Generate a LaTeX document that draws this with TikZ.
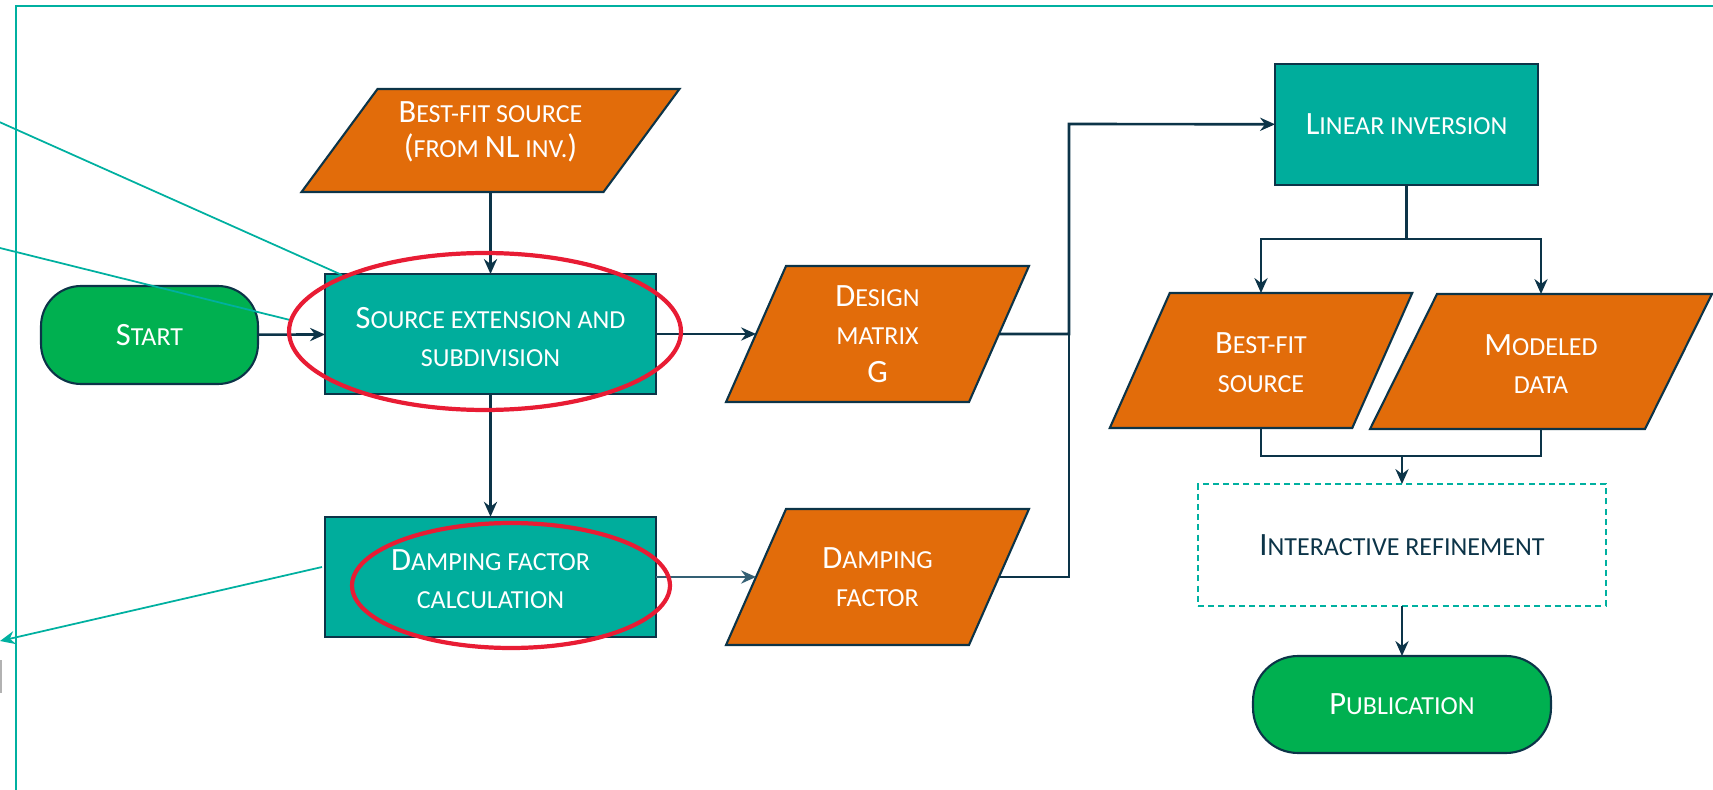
\documentclass[tikz,border=0pt]{standalone}
\usepackage{fontspec}
\setmainfont{Carlito}
\usetikzlibrary{shapes.geometric,arrows.meta}

\definecolor{procteal}{RGB}{0,173,156}
\definecolor{dataorange}{RGB}{226,108,10}
\definecolor{termgreen}{RGB}{0,176,80}
\definecolor{navy}{RGB}{12,52,72}
\definecolor{softnavy}{RGB}{52,96,116}
\definecolor{markred}{RGB}{232,28,52}
\definecolor{noteteal}{RGB}{0,176,160}

\pgfdeclarelayer{bg}
\pgfsetlayers{bg,main}

% faked small capitals: a full-size initial and reduced capitals
\newcommand\bigc[1]{{\fontsize{18.5}{21.8}\selectfont #1}}
\newcommand\smc[1]{{\fontsize{14.8}{21.8}\selectfont\MakeUppercase{#1}}}
% empty leading line that nudges a text block slightly downwards
\newcommand\nudge[1]{\mbox{}\\[#1]}

% parallelogram behind a data node; #2 is the horizontal lean of its sides
\newcommand\slantbox[2]{%
  \begin{pgfonlayer}{bg}
    \draw[datashape]
      ([xshift=-#2*0.01cm]#1.south west) -- ([xshift=-#2*0.01cm]#1.south east)
      -- ([xshift=#2*0.01cm]#1.north east) -- ([xshift=#2*0.01cm]#1.north west) -- cycle;
  \end{pgfonlayer}}

\tikzset{
  base/.style={align=center, inner sep=0pt, outer sep=0pt, line width=1.2pt, draw=navy,
    text=white, font=\fontsize{14.8}{21.8}\selectfont},
  proc/.style={base, rectangle, fill=procteal},
  term/.style={base, rectangle, fill=termgreen},
  data/.style={base, rectangle, draw=none},
  datashape/.style={draw=navy, line width=1.2pt, fill=dataorange, line join=miter},
  refbox/.style={base, rectangle, draw=noteteal, line width=1.2pt,
    dash pattern=on 3.4pt off 2.4pt, text=navy},
  link/.style={draw=navy, line width=1.5pt},
  flow/.style={link, -{Stealth[length=8.5pt,width=7.5pt,inset=2.8pt]}},
  note/.style={draw=noteteal, line width=1pt},
  ring/.style={ellipse, draw=markred, line width=2.4pt, inner sep=0pt},
}

\begin{document}
\begin{tikzpicture}[x=0.02cm, y=-0.02cm]
\path[use as bounding box, clip] (0,0) rectangle (1713,790);

% enclosing frame, running past the right and bottom edges
\draw[note] (16,800) |- (1720,6);

% terminals
\node[term, minimum width=4.34cm, minimum height=1.96cm, rounded corners=0.8cm]
  (start) at (149.5,335) {\bigc{S}\smc{tart}};
\node[term, minimum width=5.96cm, minimum height=1.94cm, rounded corners=0.9cm]
  (pub) at (1402,704.5) {\bigc{P}\smc{ublication}};

% processes
\node[proc, minimum width=6.62cm, minimum height=2.4cm]
  (src) at (490.5,334) {\nudge{-6pt}\bigc{S}\smc{ource extension and}\\\smc{subdivision}};
\node[proc, minimum width=6.62cm, minimum height=2.41cm]
  (dcal) at (490.5,577) {\nudge{-7.3pt}\bigc{D}\smc{amping factor}\\\smc{calculation}};
\node[proc, minimum width=5.26cm, minimum height=2.42cm]
  (lin) at (1406.5,124.5) {\bigc{L}\smc{inear inversion}};
\node[refbox, minimum width=8.16cm, minimum height=2.44cm]
  (ref) at (1402,545) {\bigc{I}\smc{nteractive refinement}};

% data (side length and height; the lean is added by \slantbox)
\node[data, minimum width=6.04cm, minimum height=2.06cm]
  (bnl) at (490.5,140.5) {\bigc{B}\smc{est-fit source}\\[-1.5pt]\bigc{(}\smc{from }\bigc{NL}\smc{ inv.}\bigc{)}\\[-9.4pt]\mbox{}};
\node[data, minimum width=4.86cm, minimum height=2.72cm]
  (dm) at (877.5,334) {\bigc{D}\smc{esign}\\\smc{matrix}\\\bigc{G}};
\node[data, minimum width=4.86cm, minimum height=2.72cm]
  (df) at (877.5,577) {\bigc{D}\smc{amping}\\\smc{factor}};
\node[data, minimum width=4.85cm, minimum height=2.7cm]
  (bfs) at (1261,360.5) {\nudge{-7.3pt}\bigc{B}\smc{est-fit}\\\smc{source}};
\node[data, minimum width=5.5cm, minimum height=2.7cm]
  (md) at (1541,361.5) {\nudge{-7.3pt}\bigc{M}\smc{odeled}\\\smc{data}};
\slantbox{bnl}{76}
\slantbox{dm}{60}
\slantbox{df}{60}
\slantbox{bfs}{60}
\slantbox{md}{67}

% junction points
\coordinate (jn) at (1069,124);
\coordinate (split) at (1406.5,239);
\coordinate (merge) at (1402,456);

% flow connectors
\draw[flow] (start) -- (src);
\draw[flow] (bnl) -- (src);
\draw[flow] (src) -- (dcal);
\draw[flow] (src) -- (dm);
\draw[flow, draw=softnavy] (dcal) -- (df);
\draw[flow] (dm) -| (jn) -- (lin);
\draw[link] (df) -| (jn);
\draw[link] (lin) -- (split);
\draw[flow] (split) -| (bfs);
\draw[flow] (split) -| (md);
\draw[link] (bfs) |- (merge);
\draw[link] (md) |- (merge);
\draw[flow] (merge) -- (ref);
\draw[flow] (ref) -- (pub);

% callout lines leading off the left edge
\coordinate (c1a) at (-4,120.5);
\coordinate (c1b) at (342,275);
\coordinate (c2a) at (-4,247);
\coordinate (c2b) at (290,320);
\coordinate (c3a) at (322,567);
\coordinate (c3b) at (0,641);
\draw[note] (c1a) -- (c1b);
\draw[note] (c2a) -- (c2b);
\draw[note, -{Stealth[length=8.5pt,width=7.5pt,inset=2.8pt]}] (c3a) -- (c3b);
\draw[gray!60, line width=1.2pt] (0.5,660) -- (0.5,693);

% highlight rings
\node[ring, minimum width=7.84cm, minimum height=3.14cm] (hl1) at (485,331.5) {};
\node[ring, minimum width=6.36cm, minimum height=2.5cm] (hl2) at (511,585.5) {};
\end{tikzpicture}
\end{document}
